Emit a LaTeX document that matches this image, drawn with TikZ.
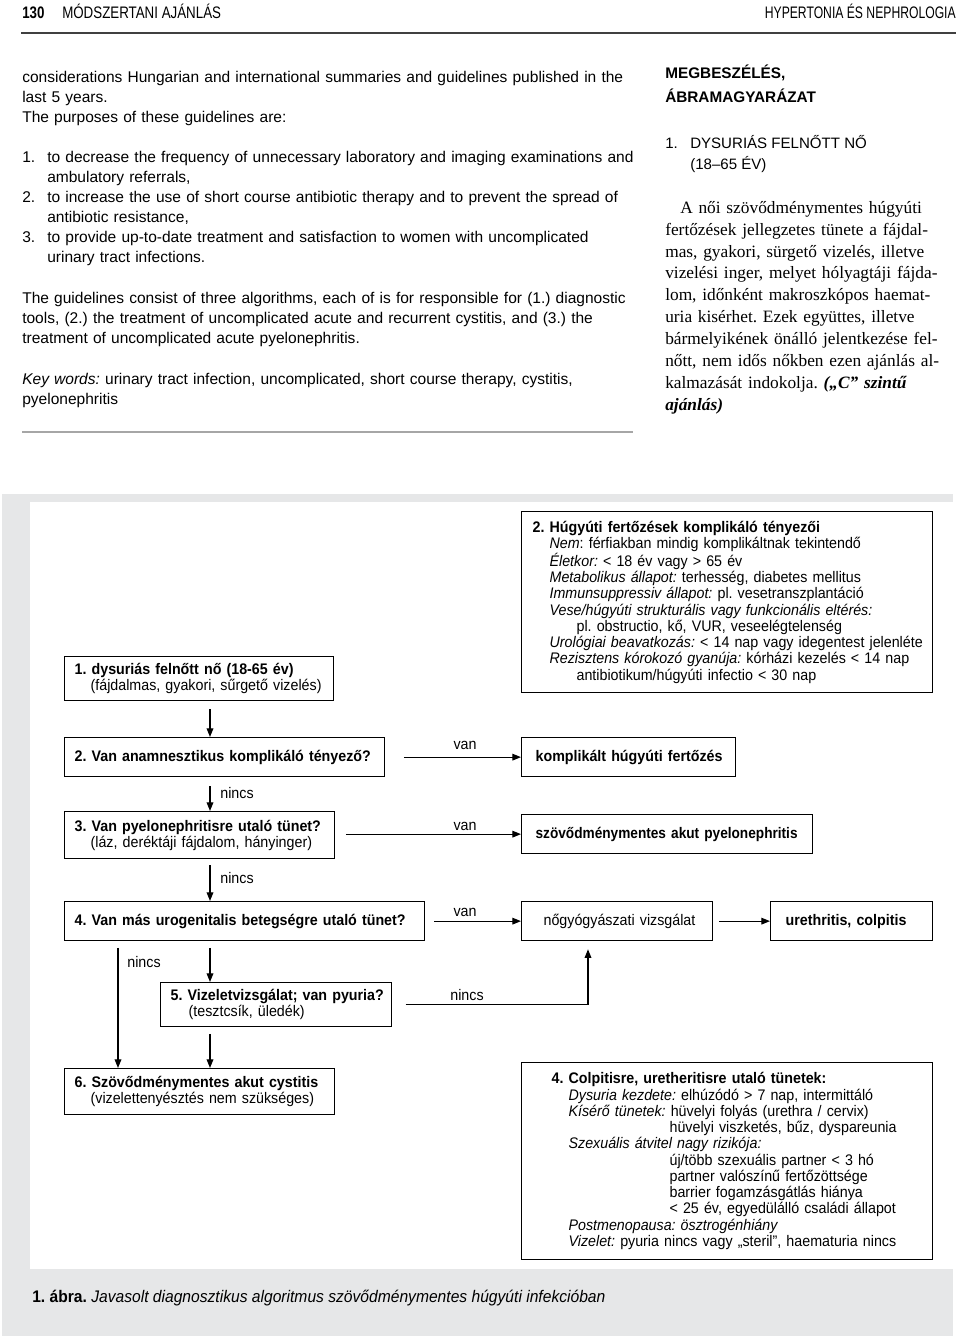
\documentclass[tikz,border=0pt]{standalone}
\usepackage{fontspec}
\setmainfont{Liberation Serif}
\setsansfont{Liberation Sans}
\newfontfamily\condf{Liberation Sans}[FakeStretch=0.93]
\newfontfamily\condn{Liberation Sans}[FakeStretch=0.89]
\newfontfamily\hdrf{Liberation Sans}[FakeStretch=0.8]
\newfontfamily\hdrr{Liberation Sans}[FakeStretch=0.73]
\usetikzlibrary{arrows.meta}
\definecolor{panel}{HTML}{E6E7E8}
\frenchspacing
\tikzset{
  every node/.style={inner sep=0pt},
  box/.style={draw, line width=0.95pt, anchor=north west, align=left, inner ysep=0pt,
    font=\condf\fontsize{11.5}{12.2}\selectfont},
  arr/.style={draw, line width=0.95pt, -{Triangle[length=6.5pt,width=5pt]}},
  lbl/.style={font=\condf\fontsize{11.5}{12}\selectfont},
  bodytxt/.style={anchor=north west, align=left, text width=458.25pt,
    font=\sffamily\fontsize{11.65}{15}\selectfont},
  hdr/.style={font=\hdrf\fontsize{12.5}{14}\selectfont},
}
\begin{document}
\begin{tikzpicture}[x=0.75pt,y=-0.75pt]
\useasboundingbox (0,0) rectangle (960,1340);
% header
\node[hdr, anchor=base west] (pn) at (22,18) {\bfseries 130};
\node[hdr, anchor=base west] (hl) at (62,18) {MÓDSZERTANI AJÁNLÁS};
\node[anchor=base east, font=\hdrr\fontsize{12.5}{14}\selectfont] (hr) at (956,18) {HYPERTONIA ÉS NEPHROLOGIA};
\draw[line width=1.4pt, black!75] (21,33) -- (956,33);
% left column
\node[bodytxt] (p1) at (22,70) {\rule{0pt}{9pt}\makebox[\linewidth][s]{considerations Hungarian and international summaries and guidelines published in the}\\
last 5 years.\\
The purposes of these guidelines are:};
\node[bodytxt] (p2) at (22,150) {\rule{0pt}{9pt}\mbox{\makebox[18.75pt][l]{1.}to decrease the frequency of unnecessary laboratory and imaging examinations and}\\
\hspace*{18.75pt}ambulatory referrals,\\
\mbox{\makebox[18.75pt][l]{2.}to increase the use of short course antibiotic therapy and to prevent the spread of}\\
\hspace*{18.75pt}antibiotic resistance,\\
\mbox{\makebox[18.75pt][l]{3.}to provide up-to-date treatment and satisfaction to women with uncomplicated}\\
\hspace*{18.75pt}urinary tract infections.};
\node[bodytxt] (p3) at (22,291) {\rule{0pt}{9pt}\makebox[\linewidth][s]{The guidelines consist of three algorithms, each of is for responsible for (1.) diagnostic}\\
\makebox[\linewidth][s]{tools, (2.) the treatment of uncomplicated acute and recurrent cystitis, and (3.) the}\\
treatment of uncomplicated acute pyelonephritis.};
\node[bodytxt] (p4) at (22,372) {\rule{0pt}{9pt}\makebox[\linewidth][s]{\textit{Key words:} urinary tract infection, uncomplicated, short course therapy, cystitis,}\\
pyelonephritis};
\draw[line width=0.8pt, black!35] (22,432) -- (633,432);
% right column
\node[anchor=north west, align=left, font=\sffamily\bfseries\fontsize{11.5}{18}\selectfont] (h1) at (665,65) {\rule{0pt}{9pt}MEGBESZÉLÉS,\\ÁBRAMAGYARÁZAT};
\node[anchor=north west, align=left, font=\sffamily\fontsize{11.3}{15.75}\selectfont] (h2) at (665,135) {\rule{0pt}{9pt}\makebox[18.75pt][l]{1.}DYSURIÁS FELNŐTT NŐ\\\hspace*{18.75pt}(18–65 ÉV)};
\node[anchor=north west, align=left, text width=217.5pt, font=\rmfamily\fontsize{13}{16.4}\selectfont] (p5) at (665,201) {\rule{0pt}{9pt}\makebox[\linewidth][s]{\hspace*{11.25pt}A női szövődménymentes húgyúti}\\
\makebox[\linewidth][s]{fertőzések jellegzetes tünete a fájdal-}\\
\makebox[\linewidth][s]{mas, gyakori, sürgető vizelés, illetve}\\
\makebox[\linewidth][s]{vizelési inger, melyet hólyagtáji fájda-}\\
\makebox[\linewidth][s]{lom, időnként makroszkópos haemat-}\\
\makebox[\linewidth][s]{uria kisérhet. Ezek együttes, illetve}\\
\makebox[\linewidth][s]{bármelyikének önálló jelentkezése fel-}\\
\makebox[\linewidth][s]{nőtt, nem idős nőkben ezen ajánlás al-}\\
\makebox[\linewidth][s]{kalmazását indokolja. \textbf{\textit{(„C” szintű}}}\\
\textbf{\textit{ajánlás)}}};
% figure panel
\fill[panel] (2,494) rectangle (953,1336);
\fill[white] (30,502) rectangle (953,1269);
% boxes
\node[box, minimum width=308.25pt, minimum height=135.75pt, inner xsep=8.25pt, text width=291.75pt] (bA) at (521,511) {\textbf{2. Húgyúti fertőzések komplikáló tényezői}\\
\hspace*{12.75pt}\mbox{\textit{Nem}: férfiakban mindig komplikáltnak tekintendő}\\
\hspace*{12.75pt}\mbox{\textit{Életkor:} < 18 év vagy > 65 év}\\
\hspace*{12.75pt}\mbox{\textit{Metabolikus állapot:} terhesség, diabetes mellitus}\\
\hspace*{12.75pt}\mbox{\textit{Immunsuppressiv állapot:} pl. vesetranszplantáció}\\
\hspace*{12.75pt}\mbox{\textit{Vese/húgyúti strukturális vagy funkcionális eltérés:}}\\
\hspace*{33pt}\mbox{pl. obstructio, kő, VUR, veseelégtelenség}\\
\hspace*{12.75pt}\mbox{\textit{Urológiai beavatkozás:} < 14 nap vagy idegentest jelenléte}\\
\hspace*{12.75pt}\mbox{\textit{Rezisztens kórokozó gyanúja:} kórházi kezelés < 14 nap}\\
\hspace*{33pt}\mbox{antibiotikum/húgyúti infectio < 30 nap}};
\node[box, minimum width=201.75pt, minimum height=33pt, inner xsep=7.5pt, text width=186.75pt] (b1) at (64,656) {\mbox{\textbf{1. dysuriás felnőtt nő (18-65 év)}}\\\hspace*{12pt}\mbox{(fájdalmas, gyakori, sűrgető vizelés)}};
\node[box, minimum width=240pt, minimum height=29.25pt, inner xsep=7.5pt, text width=225pt] (b2) at (64,737) {\mbox{\textbf{2. Van anamnesztikus komplikáló tényező?}}};
\node[box, minimum width=160.5pt, minimum height=29.25pt, inner xsep=10.5pt, text width=139.5pt] (bK) at (521,737) {\mbox{\textbf{komplikált húgyúti fertőzés}}};
\node[box, minimum width=202.5pt, minimum height=35.25pt, inner xsep=7.5pt, text width=187.5pt] (b3) at (64,811) {\mbox{\textbf{3. Van pyelonephritisre utaló tünet?}}\\\hspace*{12pt}\mbox{(láz, deréktáji fájdalom, hányinger)}};
\node[box, minimum width=218.25pt, minimum height=29.25pt, inner xsep=10.5pt, text width=197.25pt] (bP) at (521,814) {\mbox{\condn\bfseries szövődménymentes akut pyelonephritis}};
\node[box, minimum width=270pt, minimum height=29.25pt, inner xsep=7.5pt, text width=255pt] (b4) at (64,901) {\mbox{\textbf{4. Van más urogenitalis betegségre utaló tünet?}}};
\node[box, minimum width=143.25pt, minimum height=29.25pt, inner xsep=16.5pt, text width=110.25pt] (bN) at (521,901) {\mbox{nőgyógyászati vizsgálat}};
\node[box, minimum width=121.5pt, minimum height=29.25pt, inner xsep=11.25pt, text width=99pt] (bU) at (770,901) {\mbox{\textbf{urethritis, colpitis}}};
\node[box, minimum width=173.25pt, minimum height=33pt, inner xsep=7.5pt, text width=158.25pt] (b5) at (160,982) {\mbox{\textbf{5. Vizeletvizsgálat; van pyuria?}}\\\hspace*{13.5pt}\mbox{(tesztcsík, üledék)}};
\node[box, minimum width=202.5pt, minimum height=34.5pt, inner xsep=7.5pt, text width=187.5pt] (b6) at (64,1068) {\mbox{\textbf{6. Szövődménymentes akut cystitis}}\\\hspace*{12pt}\mbox{(vizelettenyésztés nem szükséges)}};
\node[box, minimum width=308.25pt, minimum height=147.75pt, inner xsep=22.5pt, text width=263.25pt] (bB) at (521,1062) {\mbox{\textbf{4. Colpitisre, uretheritisre utaló tünetek:}}\\
\hspace*{12.75pt}\mbox{\textit{Dysuria kezdete:} elhúzódó > 7 nap, intermittáló}\\
\hspace*{12.75pt}\mbox{\textit{Kísérő tünetek:} hüvelyi folyás (urethra / cervix)}\\
\hspace*{88.5pt}\mbox{hüvelyi viszketés, bűz, dyspareunia}\\
\hspace*{12.75pt}\mbox{\textit{Szexuális átvitel nagy rizikója:}}\\
\hspace*{88.5pt}\mbox{új/több szexuális partner < 3 hó}\\
\hspace*{88.5pt}\mbox{partner valószínű fertőzöttsége}\\
\hspace*{88.5pt}\mbox{barrier fogamzásgátlás hiánya}\\
\hspace*{88.5pt}\mbox{< 25 év, egyedülálló családi állapot}\\
\hspace*{12.75pt}\mbox{\textit{Postmenopausa: ösztrogénhiány}}\\
\hspace*{12.75pt}\mbox{\textit{Vizelet:} pyuria nincs vagy „steril”, haematuria nincs}};
% connectors
\coordinate (x210) at (210,0);
\coordinate (x118) at (118,0);
\coordinate (x588) at (588,0);
\draw[arr, shorten <=6pt] (b1.south -| x210) -- (b2.north -| x210);
\draw[arr, shorten <=14pt] (b2.east) -- (bK.west);
\draw[arr, shorten <=6.75pt] (b2.south -| x210) -- (b3.north -| x210);
\draw[arr, shorten <=8pt] (b3.east |- bP.west) -- (bP.west);
\draw[arr, shorten <=4.5pt] (b3.south -| x210) -- (b4.north -| x210);
\draw[arr, shorten <=6.75pt] (b4.east) -- (bN.west);
\draw[arr, shorten <=4.5pt] (bN.east) -- (bU.west);
\draw[arr, shorten <=5pt] (b4.south -| x118) -- (b6.north -| x118);
\draw[arr, shorten <=5pt] (b4.south -| x210) -- (b5.north -| x210);
\draw[arr, shorten <=10pt, shorten >=6pt] (b5.east) -- (b5.east -| x588) -- (bN.south -| x588);
\draw[arr, shorten <=5pt] (b5.south -| x210) -- (b6.north -| x210);
% labels
\node[lbl] (l1) at (465,745) {van};
\node[lbl] (l2) at (237,793) {nincs};
\node[lbl] (l3) at (465,826) {van};
\node[lbl] (l4) at (237,878) {nincs};
\node[lbl] (l5) at (465,912) {van};
\node[lbl] (l6) at (144,962) {nincs};
\node[lbl] (l7) at (467,995) {nincs};
% caption
\node[anchor=west, font=\condf\fontsize{12.6}{14}\selectfont] (cap) at (32,1298) {\textbf{1. ábra.} \textit{Javasolt diagnosztikus algoritmus szövődménymentes húgyúti infekcióban}};
\end{tikzpicture}
\end{document}
